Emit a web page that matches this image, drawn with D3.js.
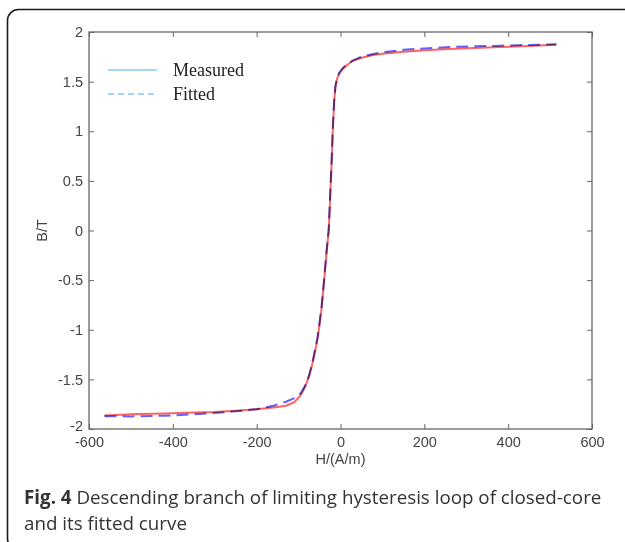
<!DOCTYPE html>
<html>
<head>
<meta charset="utf-8">
<script src="https://cdn.jsdelivr.net/npm/d3@7"></script>
<style>
  html, body { margin: 0; padding: 0; background: #fff; }
  svg { display: block; }
</style>
</head>
<body>
<svg id="chart" width="625" height="542"></svg>
<script>
// Descending branch of the limiting hysteresis loop: field strength H (A/m) vs flux density B (T)
const measuredH = [-563, -500, -420, -350, -300, -250, -200, -160, -130, -110, -95, -85, -75, -67, -60, -55, -50, -45, -40, -36, -32, -28, -25, -21, -18, -15, -12, -8, -3, 5, 15, 30, 50, 75, 100, 150, 200, 260, 320, 380, 450, 515];
const measuredB = [-1.865, -1.852, -1.843, -1.835, -1.828, -1.815, -1.800, -1.783, -1.765, -1.73, -1.66, -1.58, -1.47, -1.34, -1.20, -1.10, -0.95, -0.78, -0.55, -0.35, -0.17, 0.00, 0.30, 0.70, 1.05, 1.30, 1.45, 1.53, 1.58, 1.625, 1.665, 1.71, 1.74, 1.765, 1.78, 1.80, 1.815, 1.828, 1.838, 1.848, 1.86, 1.872];

const fittedH = [-563, -500, -420, -350, -300, -250, -200, -160, -130, -110, -95, -85, -75, -67, -60, -55, -50, -45, -40, -36, -32, -28, -25, -21, -18, -15, -12, -8, -3, 5, 15, 30, 50, 75, 100, 150, 200, 260, 320, 380, 450, 515];
const fittedB = [-1.872, -1.873, -1.866, -1.852, -1.840, -1.822, -1.800, -1.765, -1.725, -1.69, -1.64, -1.57, -1.46, -1.33, -1.19, -1.08, -0.93, -0.76, -0.54, -0.34, -0.15, 0.02, 0.32, 0.72, 1.07, 1.32, 1.46, 1.54, 1.59, 1.635, 1.675, 1.715, 1.75, 1.775, 1.795, 1.82, 1.835, 1.848, 1.856, 1.862, 1.87, 1.876];

const xTicks = [-600, -400, -200, 0, 200, 400, 600];
const yTicks = [-2, -1.5, -1, -0.5, 0, 0.5, 1, 1.5, 2];
const legendLabels = ["Measured", "Fitted"];
const xLabel = "H/(A/m)";
const yLabel = "B/T";
const captionBold = "Fig. 4";
const captionLine1 = " Descending branch of limiting hysteresis loop of closed-core";
const captionLine2 = "and its fitted curve";

const svg = d3.select("#chart");

// outer figure frame with rounded corners
svg.append("rect")
  .attr("x", 7.5).attr("y", 9.5)
  .attr("width", 628).attr("height", 540)
  .attr("rx", 11).attr("ry", 11)
  .attr("fill", "none")
  .attr("stroke", "#1a1a1a")
  .attr("stroke-width", 1.6);

const plot = { left: 89, right: 592, top: 32, bottom: 429 };

const x = d3.scaleLinear().domain([-600, 600]).range([plot.left, plot.right]);
const y = d3.scaleLinear().domain([-2, 2]).range([plot.bottom, plot.top]);

const fmt = d => String(d).replace("\u2212", "-");
const axisColor = "#666";
const labelColor = "#444";
const tickFont = "Liberation Sans, Arial, sans-serif";
const tickSize = "14.5px";

function styleAxis(g) {
  g.select(".domain").remove();
  g.selectAll(".tick line").attr("stroke", axisColor).attr("stroke-width", 1);
  g.selectAll(".tick text")
    .attr("fill", labelColor)
    .style("font-family", tickFont)
    .style("font-size", tickSize);
}

// bottom / left axes with inward ticks and labels
svg.append("g")
  .attr("transform", `translate(0,${plot.bottom})`)
  .call(d3.axisBottom(x).tickValues(xTicks).tickSize(-5).tickPadding(8).tickFormat(fmt))
  .call(styleAxis);

const yAxisG = svg.append("g")
  .attr("transform", `translate(${plot.left},0)`)
  .call(d3.axisLeft(y).tickValues(yTicks).tickSize(-5).tickPadding(6).tickFormat(fmt))
  .call(styleAxis);
// lift the lowest label a little so it sits clear of the corner x label
yAxisG.selectAll(".tick text").filter(d => d === -2).attr("dy", "0.1em");

// top / right axes: inward ticks only
svg.append("g")
  .attr("transform", `translate(0,${plot.top})`)
  .call(d3.axisTop(x).tickValues(xTicks).tickSize(-5).tickFormat(""))
  .call(styleAxis);

svg.append("g")
  .attr("transform", `translate(${plot.right},0)`)
  .call(d3.axisRight(y).tickValues(yTicks).tickSize(-5).tickFormat(""))
  .call(styleAxis);

// axes box
svg.append("rect")
  .attr("x", plot.left).attr("y", plot.top)
  .attr("width", plot.right - plot.left).attr("height", plot.bottom - plot.top)
  .attr("fill", "none")
  .attr("stroke", axisColor)
  .attr("stroke-width", 1.3);

// axis titles
svg.append("text")
  .attr("x", x(0)).attr("y", 464)
  .attr("text-anchor", "middle")
  .attr("fill", labelColor)
  .style("font-family", tickFont).style("font-size", tickSize)
  .text(xLabel);

svg.append("text")
  .attr("transform", `translate(42,${y(0)}) rotate(-90)`)
  .attr("text-anchor", "middle")
  .attr("dy", "0.35em")
  .attr("fill", labelColor)
  .style("font-family", tickFont).style("font-size", tickSize)
  .text(yLabel);

// curves
const line = d3.line().x(d => x(d[0])).y(d => y(d[1]));
const measured = measuredH.map((h, i) => [h, measuredB[i]]);
const fitted = fittedH.map((h, i) => [h, fittedB[i]]);

svg.append("path")
  .datum(measured)
  .attr("d", line)
  .attr("fill", "none")
  .attr("stroke", "#ff6262")
  .attr("stroke-width", 2);

svg.append("path")
  .datum(fitted)
  .attr("d", line)
  .attr("fill", "none")
  .attr("stroke", "#6262ff")
  .attr("stroke-width", 2)
  .attr("stroke-dasharray", "12,6")
  .style("mix-blend-mode", "multiply");

// legend
const legend = svg.append("g");
const legendY = [70, 94];
legendLabels.forEach((lab, i) => {
  legend.append("line")
    .attr("x1", 108).attr("x2", 157)
    .attr("y1", legendY[i]).attr("y2", legendY[i])
    .attr("stroke", "#87c8ec")
    .attr("stroke-width", 1.6)
    .attr("stroke-dasharray", i === 1 ? "6,4" : null);
  legend.append("text")
    .attr("x", 173).attr("y", legendY[i])
    .attr("dy", "0.33em")
    .attr("fill", "#222")
    .style("font-family", "Liberation Serif, Times New Roman, serif")
    .style("font-size", "18px")
    .text(lab);
});

// caption, sized so the first line spans the frame width
const capFont = "Open Sans, Noto Sans, sans-serif";
const capLeft = 24, capRight = 602;
const cap1 = svg.append("text")
  .attr("x", capLeft).attr("y", 504)
  .attr("fill", "#333")
  .style("font-family", capFont)
  .style("font-size", "17px");
cap1.append("tspan").style("font-weight", "bold").text(captionBold);
cap1.append("tspan").text(captionLine1);

const cap2 = svg.append("text")
  .attr("x", capLeft).attr("y", 530)
  .attr("fill", "#333")
  .style("font-family", capFont)
  .style("font-size", "17px")
  .text(captionLine2);

const w = cap1.node().getComputedTextLength();
if (w > 0) {
  const size = 17 * (capRight - capLeft) / w;
  cap1.style("font-size", size + "px");
  cap2.style("font-size", size + "px");
}
</script>
</body>
</html>
